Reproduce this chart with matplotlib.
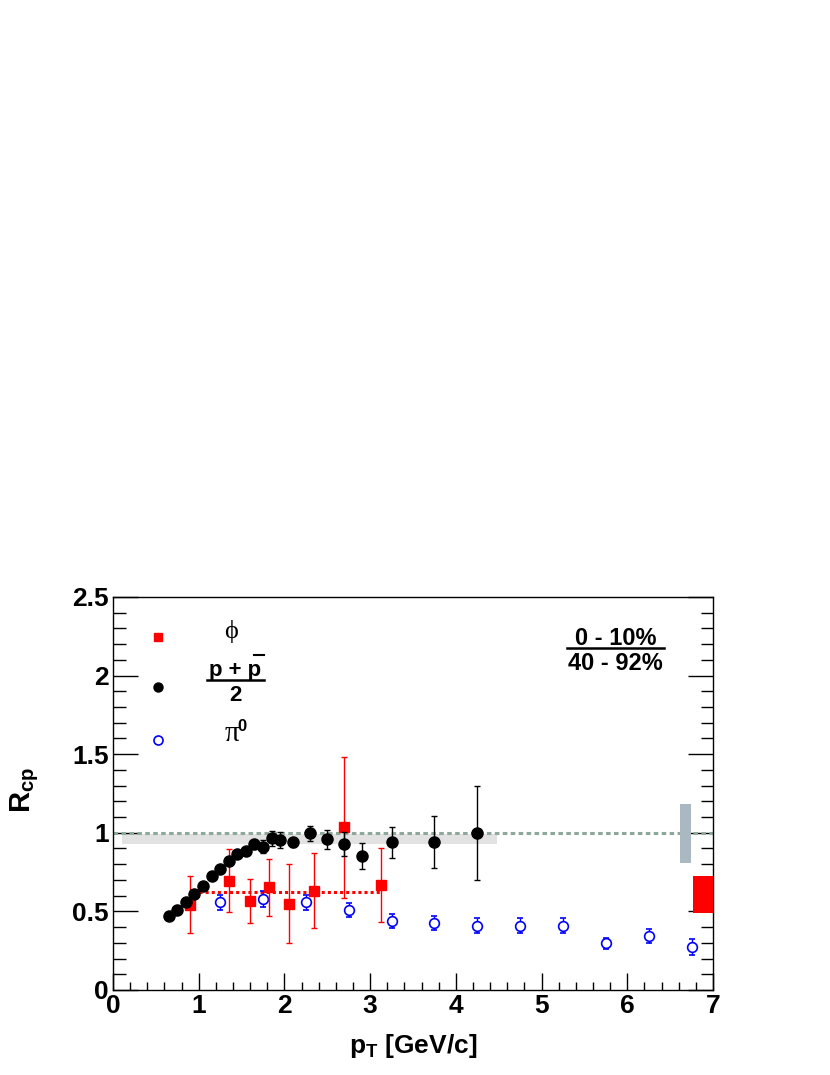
import numpy as np
import matplotlib
matplotlib.use('Agg')
import matplotlib.pyplot as plt
from matplotlib.ticker import MultipleLocator, FuncFormatter
from matplotlib.patches import Rectangle

plt.rcParams['font.family'] = ['Liberation Sans', 'DejaVu Sans']
plt.rcParams['font.weight'] = 'bold'
plt.rcParams['mathtext.fontset'] = 'custom'
plt.rcParams['mathtext.rm'] = 'Liberation Sans:bold'
plt.rcParams['mathtext.bf'] = 'Liberation Sans:bold'
plt.rcParams['mathtext.it'] = 'Liberation Sans:bold'

# (p + pbar)/2
pp_x = [0.65, 0.75, 0.85, 0.95, 1.05, 1.15, 1.25, 1.35, 1.45, 1.55, 1.65,
        1.75, 1.85, 1.95, 2.1, 2.3, 2.5, 2.7, 2.9, 3.25, 3.75, 4.25]
pp_y = [0.47, 0.51, 0.557, 0.608, 0.663, 0.726, 0.772, 0.823, 0.865, 0.886, 0.926,
        0.912, 0.964, 0.954, 0.939, 0.996, 0.958, 0.928, 0.853, 0.939, 0.939, 1.0]
pp_err = [0.01, 0.01, 0.01, 0.01, 0.01, 0.01, 0.01, 0.01, 0.01, 0.015, 0.03,
          0.04, 0.05, 0.05, 0.03, 0.05, 0.06, 0.075, 0.085, 0.1, 0.165, 0.3]

# phi
phi_x = [0.9, 1.35, 1.6, 1.82, 2.05, 2.35, 2.7, 3.13]
phi_y = [0.542, 0.696, 0.563, 0.652, 0.549, 0.631, 1.034, 0.667]
phi_err = [0.18, 0.2, 0.14, 0.18, 0.25, 0.24, 0.45, 0.235]
phi_avg = 0.62
phi_avg_range = [1.0, 3.13]

# pi0
pi_x = [1.25, 1.75, 2.25, 2.75, 3.25, 3.75, 4.25, 4.75, 5.25, 5.75, 6.25, 6.75]
pi_y = [0.557, 0.58, 0.557, 0.506, 0.437, 0.426, 0.41, 0.41, 0.41, 0.296, 0.342, 0.272]
pi_err = [0.047, 0.05, 0.05, 0.045, 0.045, 0.045, 0.045, 0.045, 0.045, 0.035, 0.045, 0.05]

# systematic boxes
band_x = [0.1, 4.48]
band_y = [0.93, 0.995]
box_grey_x = [6.62, 6.74]
box_grey_y = [0.81, 1.186]
box_red_x = [6.77, 7.0]
box_red_y = [0.49, 0.726]

fig = plt.figure(figsize=(8.3, 10.75), dpi=100)
ax = fig.add_axes([0.1361, 0.0791, 0.7229, 0.3656])

ax.add_patch(Rectangle((band_x[0], band_y[0]), band_x[1] - band_x[0], band_y[1] - band_y[0],
                       facecolor='#e2e2e2', edgecolor='none', zorder=1))
ax.axhline(1.0, color='#8fa89c', ls=(0, (1.5, 1.1)), lw=2.2, zorder=2)
ax.add_patch(Rectangle((box_grey_x[0], box_grey_y[0]), box_grey_x[1] - box_grey_x[0],
                       box_grey_y[1] - box_grey_y[0], facecolor='#aab8c1', edgecolor='none', zorder=3))
ax.add_patch(Rectangle((box_red_x[0], box_red_y[0]), box_red_x[1] - box_red_x[0],
                       box_red_y[1] - box_red_y[0], facecolor='#ff0000', edgecolor='none', zorder=3))

ax.plot(phi_avg_range, [phi_avg, phi_avg], color='#ff0000', ls=(0, (1, 1)), lw=2.2, zorder=3)

ax.errorbar(pi_x, pi_y, yerr=pi_err, fmt='o', ms=7, mfc='white', mec='#0000ff', mew=1.2,
            ecolor='#0000ff', elinewidth=1, capsize=2.5, capthick=1, zorder=4)
ax.errorbar(phi_x, phi_y, yerr=phi_err, fmt='s', ms=7, mfc='#ff0000', mec='#ff0000',
            ecolor='#ff0000', elinewidth=1, capsize=2, capthick=1, zorder=5)
ax.errorbar(pp_x, pp_y, yerr=pp_err, fmt='o', ms=8, mfc='black', mec='black',
            ecolor='black', elinewidth=1, capsize=2, capthick=1, zorder=6)

# legend drawn by hand
ax.plot([0.527], [2.247], 's', ms=6, color='#ff0000')
ax.plot([0.527], [1.924], 'o', ms=6.5, color='black')
ax.plot([0.527], [1.593], 'o', ms=6.5, mfc='white', mec='#0000ff', mew=1.2)
ax.text(1.376, 2.278, 'ϕ', family=['Liberation Serif', 'DejaVu Serif'], fontweight='normal',
        fontsize=19, ha='center', va='center')
ax.text(1.43, 2.03, 'p + p', fontsize=16, ha='center', va='center')
ax.plot([1.1, 1.764], [1.973, 1.973], color='black', lw=1.8)
ax.plot([1.64, 1.762], [2.129, 2.129], color='black', lw=1.5)
ax.text(1.43, 1.875, '2', fontsize=16, ha='center', va='center')
ax.text(1.385, 1.63, 'π', family=['Liberation Serif', 'DejaVu Serif'], fontweight='normal',
        fontsize=21, ha='center', va='center')
ax.text(1.51, 1.675, '0', fontsize=12, ha='center', va='center')

ax.text(5.864, 2.237, '0 - 10%', fontsize=17, ha='center', va='center')
ax.plot([5.293, 6.426], [2.173, 2.173], color='black', lw=1.8)
ax.text(5.864, 2.076, '40 - 92%', fontsize=17, ha='center', va='center')

ax.set_xlim(0, 7)
ax.set_ylim(0, 2.5)
ax.xaxis.set_major_locator(MultipleLocator(1))
ax.xaxis.set_minor_locator(MultipleLocator(0.2))
ax.yaxis.set_major_locator(MultipleLocator(0.5))
ax.yaxis.set_minor_locator(MultipleLocator(0.1))
ax.tick_params(which='both', direction='in', top=False, right=True, width=1)
ax.tick_params(axis='y', which='major', length=18)
ax.tick_params(axis='y', which='minor', length=9)
ax.tick_params(axis='x', which='major', length=12)
ax.tick_params(axis='x', which='minor', length=6)
ax.tick_params(which='major', labelsize=19, pad=3)
ax.xaxis.set_major_formatter(FuncFormatter(lambda v, p: '%g' % v))
ax.yaxis.set_major_formatter(FuncFormatter(lambda v, p: '%g' % v))
for lab in ax.get_xticklabels() + ax.get_yticklabels():
    lab.set_fontweight('bold')
for s in ax.spines.values():
    s.set_linewidth(1)

ax.set_xlabel(r'p$_\mathrm{T}$ [GeV/c]', fontsize=19, fontweight='bold', labelpad=10)
fig.text(0.030, 0.265, r'R$_\mathrm{cp}$', fontsize=21, fontweight='bold', rotation=90,
         ha='center', va='center')

fig.savefig('out.png', dpi=100)
